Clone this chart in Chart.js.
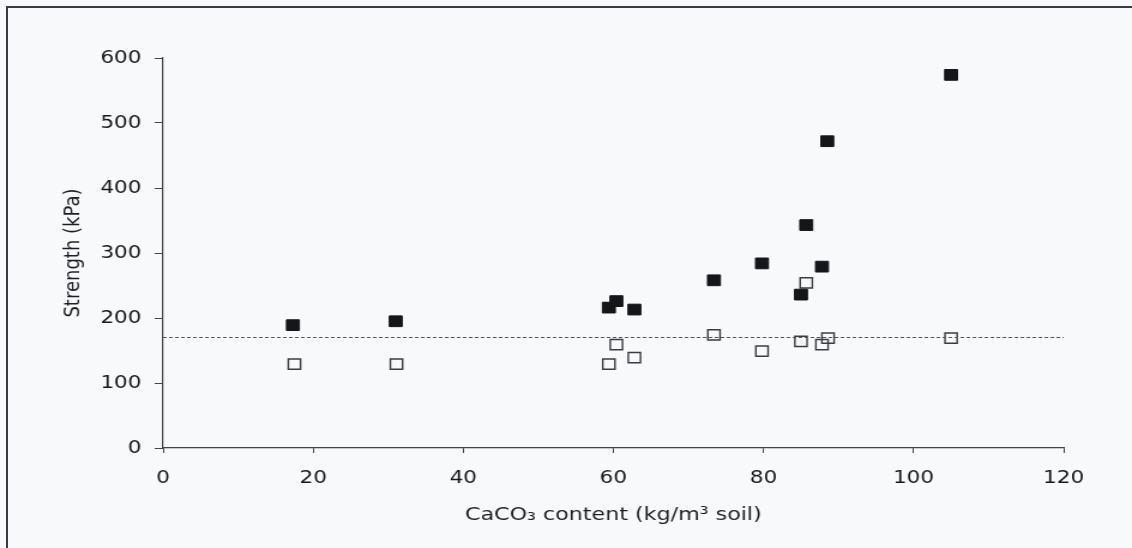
<!DOCTYPE html>
<html>
<head>
<meta charset="utf-8">
<script src="https://cdn.jsdelivr.net/npm/chart.js@4"></script>
<style>
  html, body { margin: 0; padding: 0; background: #f8f9fb; }
  body { width: 1132px; height: 548px; position: relative; overflow: hidden; }
  #frame {
    position: absolute; left: 6px; top: 6px; width: 1140px; height: 560px;
    border-top: 2px solid #3a3b44; border-left: 2px solid #3a3b44;
  }
  #wrap {
    position: absolute; left: 0; top: 0; width: 944px; height: 548px;
    transform: scaleX(1.19915); transform-origin: 0 0;
  }
</style>
</head>
<body>
<div id="frame"></div>
<div id="wrap"><canvas id="strengthChart"></canvas></div>
<script>
// CaCO3 content (kg/m3 soil) for each sample
const caco3 = [17.3, 31.0, 59.4, 60.4, 62.8, 73.4, 79.8, 85.0, 85.7, 87.8, 88.5, 105.0];
// strength of the treated samples (filled squares)
const strengthTreated = [189, 195, 216, 226, 213, 258, 284, 236, 343, 279, 472, 574];
// hollow squares
const caco3Open = [17.5, 31.1, 59.4, 60.4, 62.8, 73.4, 79.8, 85.0, 85.7, 87.8, 88.6, 105.0];
const strengthOpen = [129, 129, 129, 159, 139, 174, 149, 164, 254, 159, 169, 169];
// dashed reference level
const refLevel = 170;
const xTicks = [0, 20, 40, 60, 80, 100, 120];
const yTicks = [0, 100, 200, 300, 400, 500, 600];

const toPoints = (xs, ys) => xs.map((x, i) => ({ x: x, y: ys[i] }));
const xMin = xTicks[0], xMax = xTicks[xTicks.length - 1];

document.addEventListener("DOMContentLoaded", function () {
    const ctx = document.getElementById('strengthChart').getContext('2d');

    new Chart(ctx, {
        type: 'scatter',
        data: {
            datasets: [{
                label: 'Reference',
                type: 'line',
                data: [{ x: xMin, y: refLevel }, { x: xMax, y: refLevel }],
                borderColor: '#55565c',
                borderWidth: 1,
                borderDash: [3, 2],
                pointRadius: 0,
                fill: false
            }, {
                label: 'Treated',
                data: toPoints(caco3, strengthTreated),
                pointStyle: 'rect',
                pointRadius: 7.6,
                backgroundColor: '#15161a',
                borderColor: '#15161a',
                borderWidth: 1
            }, {
                label: 'Untreated',
                data: toPoints(caco3Open, strengthOpen),
                pointStyle: 'rect',
                pointRadius: 7.2,
                backgroundColor: 'rgba(0,0,0,0)',
                borderColor: '#3b3c42',
                borderWidth: 1.4
            }]
        },
        options: {
            responsive: true,
            maintainAspectRatio: false,
            animation: false,
            events: [],
            layout: {
                padding: { left: 0, right: 57, top: 58, bottom: 0 }
            },
            plugins: {
                legend: { display: false },
                tooltip: { enabled: false }
            },
            scales: {
                x: {
                    type: 'linear',
                    min: xMin,
                    max: xMax,
                    afterBuildTicks: function (scale) {
                        scale.ticks = xTicks.map(v => ({ value: v }));
                    },
                    afterFit: function (scale) { scale.height = 100; },
                    border: { color: '#44454b', width: 1.2 },
                    grid: {
                        drawOnChartArea: false,
                        tickLength: 5,
                        tickColor: '#44454b'
                    },
                    ticks: {
                        padding: 15,
                        color: '#16171b',
                        font: { family: 'DejaVu Sans', size: 18 }
                    },
                    title: {
                        display: true,
                        text: 'CaCO₃ content (kg/m³ soil)',
                        color: '#1e1f24',
                        font: { family: 'DejaVu Sans', size: 18.5 },
                        padding: { top: 0, bottom: 22 }
                    }
                },
                y: {
                    min: yTicks[0],
                    max: yTicks[yTicks.length - 1],
                    afterBuildTicks: function (scale) {
                        scale.ticks = yTicks.map(v => ({ value: v }));
                    },
                    afterFit: function (scale) { scale.width = 136; },
                    border: { color: '#44454b', width: 1.2 },
                    grid: {
                        drawOnChartArea: false,
                        tickLength: 7,
                        tickColor: '#44454b'
                    },
                    ticks: {
                        padding: 11,
                        color: '#16171b',
                        font: { family: 'DejaVu Sans', size: 18 }
                    },
                    title: {
                        display: true,
                        text: 'Strength (kPa)',
                        color: '#1e1f24',
                        font: { family: 'DejaVu Sans', size: 18 },
                        padding: { top: 51, bottom: 0 }
                    }
                }
            }
        }
    });
});
</script>
</body>
</html>
